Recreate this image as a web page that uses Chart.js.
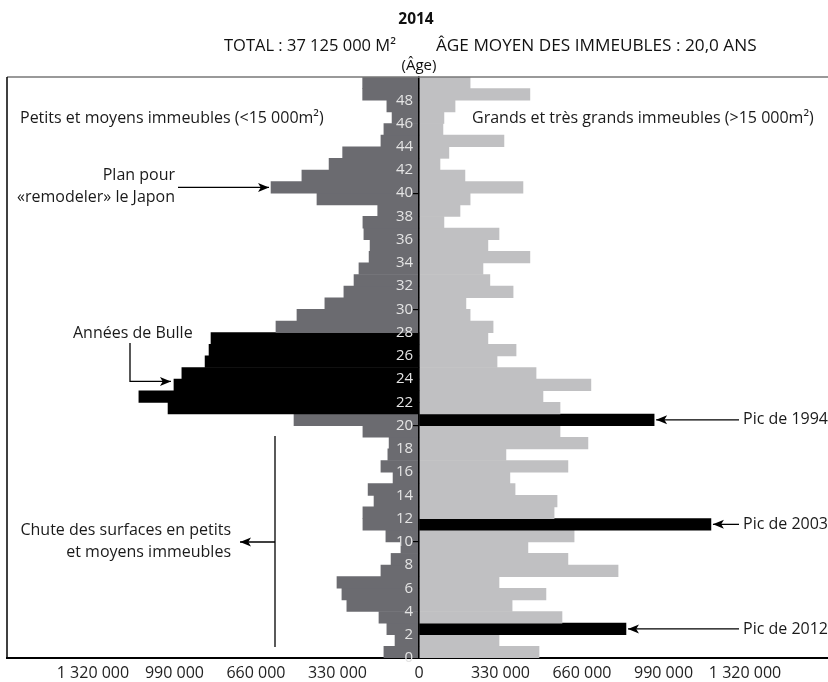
<!DOCTYPE html>
<html><head><meta charset="utf-8">
<script src="https://cdn.jsdelivr.net/npm/chart.js@4.4.1/dist/chart.umd.min.js"></script>
<style>html,body{margin:0;padding:0;background:#fff;}canvas{display:block;}</style>
</head><body>
<canvas id="c" width="828" height="682"></canvas>
<script>
// Ages (years since construction), 0..49
const ages = [0,1,2,3,4,5,6,7,8,9,10,11,12,13,14,15,16,17,18,19,20,21,22,23,24,25,26,27,28,29,30,31,32,33,34,35,36,37,38,39,40,41,42,43,44,45,46,47,48,49];
// Floor area (m²) of small & medium buildings (<15 000 m²), by age
const smallBuildings = [142000,97000,130000,162000,292000,312000,332000,154000,113000,73000,134000,227000,227000,182000,206000,105000,154000,126000,121000,227000,506000,1016000,1134000,992000,960000,866000,850000,842000,579000,494000,381000,304000,263000,243000,202000,198000,223000,227000,167000,413000,599000,474000,364000,309000,154000,142000,109000,130000,228000,228000];
// Floor area (m²) of large & very large buildings (>15 000 m²), by age
const largeBuildings = [486000,324000,838000,579000,377000,514000,324000,806000,603000,441000,628000,1182000,547000,559000,389000,368000,603000,352000,684000,571000,952000,571000,502000,696000,474000,316000,393000,279000,300000,207000,190000,381000,287000,259000,449000,279000,324000,101000,166000,207000,421000,186000,85000,121000,344000,97000,101000,146000,449000,207000];
// Highlighted ages
const bubbleAges = [21,22,23,24,25,26,27];
const peakAges = [20,11,2];
// Tick values
const xTickValues = [-1320000,-990000,-660000,-330000,0,330000,660000,990000,1320000];
const ageTickValues = [0,2,4,6,8,10,12,14,16,18,20,22,24,26,28,30,32,34,36,38,40,42,44,46,48];

const FONT = "'Open Sans', 'Noto Sans', sans-serif";
const fmt = v => String(Math.abs(v)).replace(/\B(?=(\d{3})+(?!\d))/g, ' ');

function arrow(ctx, pts){
  ctx.save();
  ctx.strokeStyle = '#000'; ctx.fillStyle = '#000'; ctx.lineWidth = 1.3;
  ctx.beginPath();
  ctx.moveTo(pts[0][0], pts[0][1]);
  for (let i=1;i<pts.length;i++) ctx.lineTo(pts[i][0], pts[i][1]);
  const [px,py] = pts[pts.length-2], [tx,ty] = pts[pts.length-1];
  const a = Math.atan2(ty-py, tx-px);
  ctx.stroke();
  const L = 11, W = 4.5;
  ctx.beginPath();
  ctx.moveTo(tx,ty);
  ctx.lineTo(tx - L*Math.cos(a) + W*Math.sin(a), ty - L*Math.sin(a) - W*Math.cos(a));
  ctx.lineTo(tx - L*Math.cos(a)*0.75, ty - L*Math.sin(a)*0.75);
  ctx.lineTo(tx - L*Math.cos(a) - W*Math.sin(a), ty - L*Math.sin(a) + W*Math.cos(a));
  ctx.closePath(); ctx.fill();
  ctx.restore();
}

// keep the vertical (age) scales spanning the full plot height
const fullHeight = {
  id: 'fullHeight',
  afterLayout(chart){
    const ca = chart.chartArea;
    ['y','yl'].forEach(id => {
      const s = chart.scales[id];
      if (!s) return;
      s.top = ca.top; s.bottom = ca.bottom; s.height = ca.bottom - ca.top;
      s.configure();
    });
  }
};

const decor = {
  id: 'decor',
  afterDraw(chart){
    const ctx = chart.ctx, ca = chart.chartArea;
    const xs = chart.scales.x, ys = chart.scales.y;
    ctx.save();
    // frame
    ctx.strokeStyle = '#777'; ctx.lineWidth = 1.5;
    ctx.beginPath(); ctx.moveTo(ca.left, ca.top); ctx.lineTo(ca.right, ca.top); ctx.stroke();
    ctx.strokeStyle = '#000'; ctx.lineWidth = 1.5;
    ctx.beginPath(); ctx.moveTo(ca.left, ca.top); ctx.lineTo(ca.left, ca.bottom); ctx.stroke();
    // titles
    ctx.fillStyle = '#111'; ctx.textBaseline = 'middle';
    ctx.font = "bold 15.5px " + FONT; ctx.textAlign = 'center';
    ctx.fillText('2014', 416, 20);
    ctx.textAlign = 'left';
    ctx.font = "16.5px " + FONT;
    ctx.fillText('TOTAL : 37 125 000 M²', 224, 46);
    ctx.font = "17.2px " + FONT;
    ctx.fillText('ÂGE MOYEN DES IMMEUBLES : 20,0 ANS', 436, 46);
    ctx.textAlign = 'center';
    ctx.font = "15px " + FONT;
    ctx.fillText('(Âge)', 419, 66);
    // labels
    ctx.font = "16px " + FONT; ctx.fillStyle = '#1a1a1a';
    ctx.textAlign = 'left';
    ctx.fillText('Petits et moyens immeubles (<15 000m²)', 20, 118);
    ctx.fillText('Grands et très grands immeubles (>15 000m²)', 472, 118);
    ctx.textAlign = 'right';
    ctx.fillText('Plan pour', 175, 175);
    ctx.fillText('«remodeler» le Japon', 175, 197);
    ctx.textAlign = 'left';
    ctx.fillText('Années de Bulle', 73, 333);
    ctx.textAlign = 'right';
    ctx.fillText('Chute des surfaces en petits', 231, 530);
    ctx.fillText('et moyens immeubles', 231, 552);
    ctx.textAlign = 'left';
    const pics = [[20,'Pic de 1994'],[11,'Pic de 2003'],[2,'Pic de 2012']];
    pics.forEach(([age, txt]) => {
      const y = ys.getPixelForValue(age + 0.5);
      ctx.fillText(txt, 743, y);
      arrow(ctx, [[739, y], [xs.getPixelForValue(largeBuildings[age]) + 2, y]]);
    });
    // arrows on the left
    const yPlan = ys.getPixelForValue(40.5);
    arrow(ctx, [[178, yPlan], [xs.getPixelForValue(-smallBuildings[40]) - 2, yPlan]]);
    const yBulle = ys.getPixelForValue(23.8);
    arrow(ctx, [[130, 343], [130, yBulle], [xs.getPixelForValue(-smallBuildings[23]) - 3, yBulle]]);
    ctx.strokeStyle = '#000'; ctx.lineWidth = 1.3;
    ctx.beginPath(); ctx.moveTo(275, ys.getPixelForValue(19.1)); ctx.lineTo(275, ys.getPixelForValue(0.95)); ctx.stroke();
    arrow(ctx, [[275, 542], [240, 542]]);
    ctx.restore();
  }
};

new Chart(document.getElementById('c'), {
  type: 'bar',
  data: {
    datasets: [
      {
        label: 'Petits et moyens immeubles (<15 000m²)',
        data: ages.map((a, i) => ({ x: -smallBuildings[i], y: a + 0.5 })),
        backgroundColor: ages.map(a => bubbleAges.includes(a) ? '#000000' : '#6b6b70'),
        grouped: false, barPercentage: 1, categoryPercentage: 1, borderWidth: 0
      },
      {
        label: 'Grands et très grands immeubles (>15 000m²)',
        data: ages.map((a, i) => ({ x: largeBuildings[i], y: a + 0.5 })),
        backgroundColor: ages.map(a => peakAges.includes(a) ? '#000000' : '#c0c0c2'),
        grouped: false, barPercentage: 1, categoryPercentage: 1, borderWidth: 0
      }
    ]
  },
  options: {
    indexAxis: 'y',
    responsive: false,
    animation: false,
    devicePixelRatio: 1,
    layout: { padding: { left: 7, right: 0, top: 77, bottom: 0 } },
    plugins: { legend: { display: false }, tooltip: { enabled: false }, title: { display: false } },
    scales: {
      x: {
        type: 'linear', position: 'bottom',
        min: -1668000, max: 1656000,
        afterBuildTicks: s => { s.ticks = xTickValues.map(v => ({ value: v })); },
        afterFit: s => { s.height = 24; },
        ticks: { callback: v => fmt(v), color: '#222', font: { family: FONT, size: 16 }, padding: -2, maxRotation: 0, autoSkip: false },
        grid: { display: false },
        border: { display: true, color: '#000', width: 2 }
      },
      y: {
        type: 'linear', position: { x: 0 }, offset: false,
        min: 0, max: 50,
        afterBuildTicks: s => { s.ticks = ageTickValues.map(v => ({ value: v })); },
        ticks: { display: false, padding: 0 },
        grid: { z: 1, offset: false, drawOnChartArea: false, drawTicks: true, tickLength: 5, lineWidth: 1.2,
                tickColor: c => (c.tick && c.tick.value % 10 === 0 && c.tick.value > 0) ? '#000' : 'rgba(0,0,0,0)' },
        border: { z: 1, display: true, color: '#000', width: 1.5 }
      },
      yl: {
        type: 'linear', axis: 'y', position: { x: -24000 }, offset: false,
        min: 0, max: 50,
        afterBuildTicks: s => { s.ticks = ageTickValues.map(v => ({ value: v })); },
        ticks: { z: 2, callback: v => String(v), color: '#e4e4e4', font: { family: FONT, size: 15, lineHeight: 0.01 }, padding: 0, autoSkip: false },
        grid: { display: false },
        border: { display: false }
      }
    }
  },
  plugins: [fullHeight, decor]
});
</script>
</body></html>
